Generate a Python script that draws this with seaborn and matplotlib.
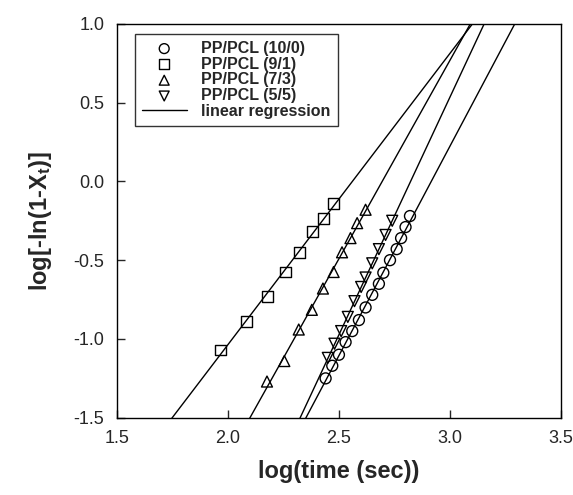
import numpy as np
import matplotlib
matplotlib.use('Agg')
import matplotlib.pyplot as plt
import seaborn as sns

# PP/PCL (10/0)
x_10_0 = [2.44, 2.47, 2.50, 2.53, 2.56, 2.59, 2.62, 2.65, 2.68, 2.70, 2.73, 2.76, 2.78, 2.80, 2.82]
y_10_0 = [-1.25, -1.17, -1.10, -1.02, -0.95, -0.88, -0.80, -0.72, -0.65, -0.58, -0.50, -0.43, -0.36, -0.29, -0.22]
# PP/PCL (9/1)
x_9_1 = [1.965, 2.085, 2.180, 2.258, 2.322, 2.382, 2.431, 2.476]
y_9_1 = [-1.07, -0.89, -0.73, -0.575, -0.45, -0.32, -0.235, -0.14]
# PP/PCL (7/3)
x_7_3 = [2.176, 2.254, 2.319, 2.378, 2.428, 2.476, 2.514, 2.552, 2.582, 2.620]
y_7_3 = [-1.27, -1.14, -0.94, -0.815, -0.68, -0.575, -0.45, -0.36, -0.265, -0.18]
# PP/PCL (5/5)
x_5_5 = [2.45, 2.48, 2.51, 2.54, 2.57, 2.60, 2.62, 2.65, 2.68, 2.71, 2.74]
y_5_5 = [-1.12, -1.03, -0.95, -0.86, -0.76, -0.67, -0.61, -0.52, -0.43, -0.34, -0.25]

series = [
    ("PP/PCL (10/0)", x_10_0, y_10_0, 'o'),
    ("PP/PCL (9/1)", x_9_1, y_9_1, 's'),
    ("PP/PCL (7/3)", x_7_3, y_7_3, '^'),
    ("PP/PCL (5/5)", x_5_5, y_5_5, 'v'),
]

sns.set_style('ticks')
plt.rcParams['font.family'] = ['Liberation Sans', 'DejaVu Sans']
plt.rcParams['axes.unicode_minus'] = False
plt.rcParams['mathtext.fontset'] = 'custom'
plt.rcParams['mathtext.rm'] = 'Liberation Sans:bold'
plt.rcParams['mathtext.it'] = 'Liberation Sans:bold'
plt.rcParams['mathtext.bf'] = 'Liberation Sans:bold'

fig = plt.figure(figsize=(5.73, 4.95), dpi=100)
ax = fig.add_axes([0.204, 0.156, 0.775, 0.796])

x_line = np.array([1.5, 3.5])
handles = []
line_handle = None
for label, xs, ys, mk in series:
    k, b = np.polyfit(xs, ys, 1)
    sns.lineplot(x=x_line, y=k * x_line + b, ax=ax, color='black', linewidth=1.0)
    line_handle = ax.lines[-1]
    pts = ax.scatter(xs, ys, marker=mk, s=62, facecolors='none',
                     edgecolors='black', linewidths=1.0, zorder=3, label=label)
    handles.append(pts)

line_handle.set_label('linear regression')
handles.append(line_handle)

ax.set_xlim(1.5, 3.5)
ax.set_ylim(-1.5, 1.0)
ax.set_xticks(np.arange(1.5, 3.51, 0.5))
ax.set_yticks(np.arange(-1.5, 1.01, 0.5))
ax.tick_params(direction='in', length=6, width=1, labelsize=13, pad=9,
               top=False, right=False)
for s in ax.spines.values():
    s.set_visible(True)
    s.set_linewidth(1.0)
    s.set_color('black')

ax.set_xlabel('log(time (sec))', fontsize=17, fontweight='bold', labelpad=9)
ax.set_ylabel(r'log[-ln(1-X$_t$)]', fontsize=17, fontweight='bold', labelpad=14)

leg = ax.legend(handles=handles, loc='upper left', bbox_to_anchor=(0.04, 0.975),
                borderaxespad=0, frameon=True, fancybox=False, edgecolor='black',
                prop={'weight': 'bold', 'size': 11.5}, handlelength=2.8,
                labelspacing=0.05, borderpad=0.45, handletextpad=0.9,
                markerscale=0.9)
leg.get_frame().set_linewidth(1.0)

fig.savefig('out.png', dpi=100)
